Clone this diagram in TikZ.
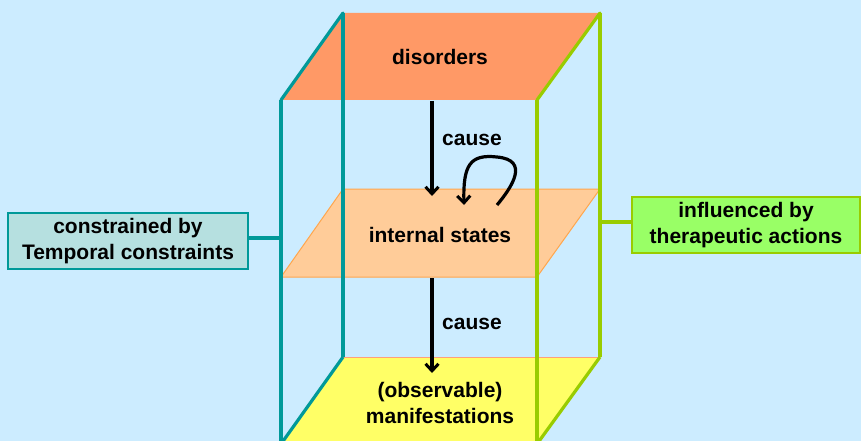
\documentclass[tikz,border=0pt]{standalone}
\usepackage{fontspec}
\setmainfont{Liberation Sans}
\usetikzlibrary{arrows.meta}

\definecolor{skyback}{HTML}{CCECFF}
\definecolor{topface}{HTML}{FF9966}
\definecolor{midface}{HTML}{FFCC99}
\definecolor{midedge}{HTML}{FFA64D}
\definecolor{lowface}{HTML}{FFFF66}
\definecolor{lowedge}{HTML}{FFA07A}
\definecolor{tealedge}{HTML}{009999}
\definecolor{limeedge}{HTML}{99CC00}
\definecolor{tealbox}{HTML}{B6E0E0}
\definecolor{limebox}{HTML}{99FF66}

\tikzset{
  leftedge/.style={draw=tealedge, line width=3.2pt},
  rightedge/.style={draw=limeedge, line width=3.2pt},
  causearrow/.style={draw=black, line width=3.2pt,
    -{Straight Barb[length=7pt,width=13pt,line width=3pt]}},
  label/.style={font=\fontsize{21}{25.5}\selectfont\bfseries, inner sep=0pt, align=center},
  sidebox/.style={label, minimum height=56pt, line width=1.2pt}
}

\begin{document}
\begin{tikzpicture}[x=1pt, y=-1pt]
\useasboundingbox (0,0) rectangle (861,441);
\clip (0,0) rectangle (861,441);
\fill[skyback] (0,0) rectangle (861,441);

% corners of the box: t = top face, m = middle plane, b = bottom face
\coordinate (tbl) at (343,13);  \coordinate (tbr) at (600,13);
\coordinate (tfl) at (281,100); \coordinate (tfr) at (537,100);
\coordinate (mbl) at (343,189); \coordinate (mbr) at (600,189);
\coordinate (mfl) at (281,277); \coordinate (mfr) at (537,277);
\coordinate (bbl) at (343,357); \coordinate (bbr) at (600,357);
\coordinate (bfl) at (281,444); \coordinate (bfr) at (537,444);

% top face
\fill[topface] (tbl) -- (tbr) -- (tfr) -- (tfl) -- cycle;
% middle plane
\filldraw[fill=midface, draw=midedge, line width=1pt]
  (mbl) -- (mbr) -- (mfr) -- (mfl) -- cycle;
% back vertical edges
\draw[leftedge] (tbl) -- (bbl);
\draw[rightedge] (tbr) -- (bbr);
% bottom face
\fill[lowface] (bbl) -- (bbr) -- (bfr) -- (bfl) -- cycle;
\draw[lowedge, line width=1pt] (bbl) -- (bbr);
% front vertical edges
\draw[leftedge] (tfl) -- (bfl);
\draw[rightedge] (tfr) -- (bfr);
% slanted edges of top and bottom faces
\draw[leftedge, line cap=round] (tbl) -- (tfl);
\draw[leftedge] (bbl) -- (bfl);
\draw[rightedge, line cap=round] (tbr) -- (tfr);
\draw[rightedge] (bbr) -- (bfr);

% level labels
\node[label, anchor=base] (dis) at (440,65) {disorders};
\node[label, anchor=base] (ist) at (440,242) {internal states};
\node[label] (man) at (440,403) {(observable)\\manifestations};

% causal arrows
\coordinate (c1s) at (432,101); \coordinate (c1e) at (432,196);
\coordinate (c2s) at (432,278); \coordinate (c2e) at (432,373);
\draw[causearrow] (c1s) -- (c1e);
\draw[causearrow] (c2s) -- (c2e);
\node[label, anchor=base] (cz1) at (472,145) {cause};
\node[label, anchor=base] (cz2) at (472,329) {cause};

% feedback loop on the internal states
\coordinate (ls) at (497,205); \coordinate (le) at (464,205);
\draw[causearrow] (ls) .. controls (512,187) and (530,160) .. (497,157)
  .. controls (470,154) and (463,165) .. (le);

% side annotations
\node[sidebox, fill=tealbox, draw=tealedge, minimum width=240pt] (tmp) at (128,241)
  {constrained by\\Temporal constraints};
\node[sidebox, fill=limebox, draw=limeedge, minimum width=228pt] (thr) at (746,225)
  {influenced by\\therapeutic actions};
\coordinate (tmpj) at (281,238);
\coordinate (thrj) at (600,222);
\draw[leftedge] (tmp.east |- tmpj) -- (tmpj);
\draw[rightedge] (thrj) -- (thr.west |- thrj);
\end{tikzpicture}
\end{document}
